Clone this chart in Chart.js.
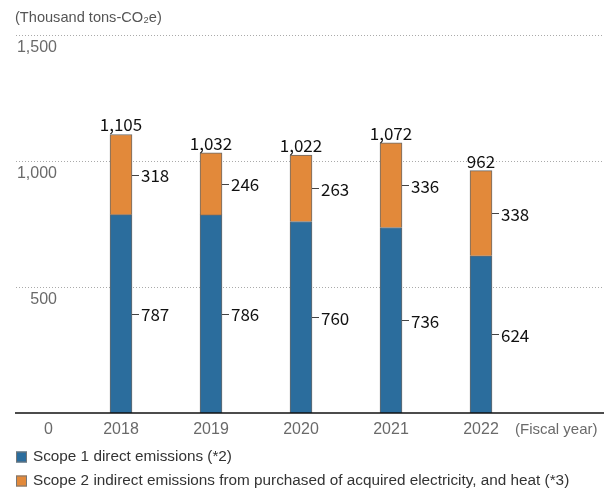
<!DOCTYPE html>
<html>
<head>
<meta charset="utf-8">
<script src="https://cdn.jsdelivr.net/npm/chart.js@4/dist/chart.umd.min.js"></script>
<style>
  html, body { margin: 0; padding: 0; background: #fff; }
  #wrap { width: 604px; height: 491px; position: relative; }
</style>
</head>
<body>
<div id="wrap"><canvas id="chart"></canvas></div>
<script>
const years = ['2018', '2019', '2020', '2021', '2022'];
const scope1 = [787, 786, 760, 736, 624];
const scope2 = [318, 246, 263, 336, 338];
const totals = [1105, 1032, 1022, 1072, 962];
const yTicks = [500, 1000, 1500];
const seriesNames = [
  'Scope 1 direct emissions (*2)',
  'Scope 2 indirect emissions from purchased of acquired electricity, and heat (*3)'
];
const colors = ['#2b6d9d', '#e2893a'];

const VFONT = '"Noto Sans CJK JP", "Noto Sans", sans-serif';
const TFONT = '"Liberation Sans", Arial, sans-serif';

const fmt = v => v.toLocaleString('en-US');

// grid, axis labels, legend, unit text
const decorPlugin = {
  id: 'decor',
  beforeDatasetsDraw(chart) {
    const ctx = chart.ctx;
    const y = chart.scales.y;
    ctx.save();
    ctx.strokeStyle = '#aaa';
    ctx.lineWidth = 1;
    ctx.setLineDash([1, 2]);
    yTicks.forEach(t => {
      const py = Math.round(y.getPixelForValue(t)) + 0.5;
      ctx.beginPath();
      ctx.moveTo(16, py);
      ctx.lineTo(604, py);
      ctx.stroke();
    });
    ctx.restore();
  },
  afterDatasetsDraw(chart) {
    const ctx = chart.ctx;
    const x = chart.scales.x;
    const y = chart.scales.y;
    ctx.save();
    // axis line
    const y0 = y.getPixelForValue(0);
    ctx.strokeStyle = '#111';
    ctx.lineWidth = 1.5;
    ctx.beginPath();
    ctx.moveTo(15, y0);
    ctx.lineTo(604, y0);
    ctx.stroke();

    // y tick labels, below their gridlines
    ctx.fillStyle = '#6a6a6a';
    ctx.font = '16px ' + TFONT;
    ctx.textAlign = 'right';
    ctx.textBaseline = 'middle';
    yTicks.forEach(t => {
      ctx.fillText(fmt(t), 57, y.getPixelForValue(t) + 13);
    });
    ctx.fillText('0', 53, y0 + 17);

    // x labels
    ctx.textAlign = 'center';
    years.forEach((yr, i) => {
      ctx.fillText(yr, x.getPixelForValue(i), y0 + 17);
    });
    ctx.textAlign = 'left';
    ctx.font = '15px ' + TFONT;
    ctx.fillText('(Fiscal year)', 515, y0 + 17);

    // unit
    ctx.font = '14.6px ' + TFONT;
    ctx.fillStyle = '#555';
    ctx.fillText('(Thousand tons-CO\u2082e)', 15, 18);

    // value labels
    const m0 = chart.getDatasetMeta(0);
    const m1 = chart.getDatasetMeta(1);
    ctx.fillStyle = '#111';
    ctx.font = '17px ' + VFONT;
    years.forEach((yr, i) => {
      const b0 = m0.data[i];
      const b1 = m1.data[i];
      const right = b0.x + b0.width / 2;
      ctx.textAlign = 'center';
      ctx.textBaseline = 'bottom';
      ctx.fillText(fmt(totals[i]), b1.x, b1.y - 1);
      ctx.textAlign = 'left';
      ctx.textBaseline = 'middle';
      [[b0, scope1[i]], [b1, scope2[i]]].forEach(([b, v]) => {
        const my = (b.y + b.base) / 2;
        ctx.strokeStyle = '#444';
        ctx.lineWidth = 1;
        ctx.beginPath();
        ctx.moveTo(right, Math.round(my) + 0.5);
        ctx.lineTo(right + 7, Math.round(my) + 0.5);
        ctx.stroke();
        ctx.fillText(fmt(v), right + 9, my + 1);
      });
    });

    // legend
    ctx.font = '15.3px ' + TFONT;
    ctx.textBaseline = 'middle';
    seriesNames.forEach((name, i) => {
      const ly = 457 + i * 24;
      ctx.fillStyle = colors[i];
      ctx.fillRect(16, ly - 5.5, 11, 11);
      ctx.strokeStyle = '#777';
      ctx.lineWidth = 1;
      ctx.strokeRect(16.5, ly - 5, 10, 10);
      ctx.fillStyle = '#333';
      ctx.fillText(name, 33, ly);
    });
    ctx.restore();
  }
};

new Chart(document.getElementById('chart'), {
  type: 'bar',
  data: {
    labels: years,
    datasets: [
      { label: seriesNames[0], data: scope1, backgroundColor: colors[0], borderColor: '#6a6a6a', borderWidth: 1, barThickness: 22 },
      { label: seriesNames[1], data: scope2, backgroundColor: colors[1], borderColor: '#6a6a6a', borderWidth: 1, barThickness: 22 }
    ]
  },
  options: {
    responsive: true,
    maintainAspectRatio: false,
    animation: false,
    layout: { padding: { top: 35, bottom: 78, left: 76, right: 78 } },
    plugins: { legend: { display: false }, tooltip: { enabled: false } },
    scales: {
      x: { stacked: true, display: false },
      y: { stacked: true, display: false, min: 0, max: 1500 }
    }
  },
  plugins: [decorPlugin]
});
</script>
</body>
</html>
